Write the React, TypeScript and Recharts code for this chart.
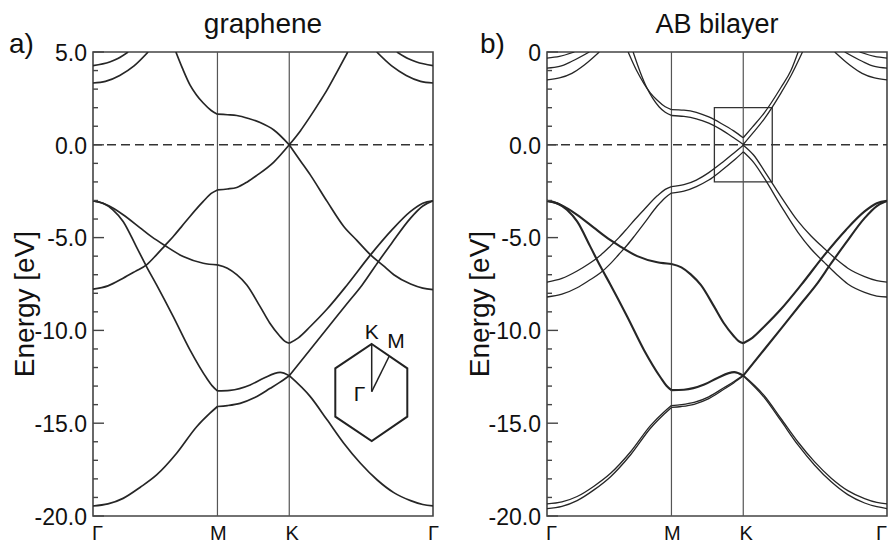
import React from 'react';
import { LineChart, Line, XAxis, YAxis, ReferenceLine, ReferenceArea } from 'recharts';

type Pt = [number, number];

// high-symmetry path (ΓM normalised to 1)
const K_G1 = 0;
const K_M = 1.0;
const K_K = 1.577;
const K_G2 = 2.732;
const kTicks = [K_G1, K_M, K_K, K_G2];
const kLabels = ['Γ', 'M', 'K', 'Γ'];

const eTicks = [5, 4, 3, 2, 1, 0, -1, -2, -3, -4, -5, -6, -7, -8, -9, -10, -11, -12, -13, -14, -15, -16, -17, -18, -19, -20];
const eMajor = [5, 0, -5, -10, -15, -20];
const eLabelsA = ['5.0', '0.0', '-5.0', '-10.0', '-15.0', '-20.0'];
const eLabelsB = ['0', '0.0', '-5.0', '-10.0', '-15.0', '-20.0'];

const titles = ['graphene', 'AB bilayer'];
const panelTags = ['a)', 'b)'];
const yTitle = 'Energy [eV]';

// ---------- graphene (monolayer) ----------
const gPiStar: Pt[] = [
  [0.666, 5.0], [0.72, 4.1], [0.779, 3.23], [0.83, 2.7], [0.886, 2.25], [0.95, 1.85], [1.0, 1.65],
  [1.08, 1.62], [1.155, 1.58], [1.25, 1.42], [1.343, 1.2], [1.453, 0.8], [1.577, 0],
  [1.666, 0.75], [1.746, 1.53], [1.82, 2.3], [1.881, 2.96], [1.96, 3.92], [2.047, 5.0],
];
const gPi: Pt[] = [
  [0, -7.78], [0.12, -7.6], [0.242, -7.19], [0.34, -6.82], [0.43, -6.47], [0.51, -5.93], [0.578, -5.43],
  [0.645, -4.94], [0.71, -4.42], [0.779, -3.86], [0.886, -3.05], [0.95, -2.62], [1.0, -2.43],
  [1.08, -2.38], [1.155, -2.3], [1.24, -2.0], [1.316, -1.65], [1.453, -0.93], [1.577, 0],
  [1.66, -0.8], [1.746, -1.62], [1.881, -3.05], [2.015, -4.4], [2.12, -5.15], [2.23, -5.93],
  [2.33, -6.5], [2.417, -7.0], [2.552, -7.5], [2.65, -7.72], [2.732, -7.8],
];
const gSigma3: Pt[] = [
  [0, -3.02], [0.1, -3.2], [0.17, -3.45], [0.242, -3.77], [0.376, -4.46], [0.47, -4.95], [0.578, -5.43],
  [0.725, -6.02], [0.886, -6.38], [1.0, -6.47],
  [1.08, -6.65], [1.155, -7.0], [1.236, -7.55], [1.343, -8.72], [1.42, -9.6], [1.5, -10.3], [1.54, -10.58], [1.577, -10.69],
  [1.65, -10.4], [1.746, -9.79], [1.881, -8.85], [2.042, -7.55], [2.23, -5.93], [2.4, -4.6],
  [2.552, -3.59], [2.65, -3.15], [2.732, -3.02],
];
const gSigma2: Pt[] = [
  [0, -3.02], [0.08, -3.15], [0.16, -3.5], [0.242, -4.13], [0.349, -5.5], [0.43, -6.56], [0.511, -7.55],
  [0.645, -9.26], [0.779, -11.05], [0.914, -12.58], [0.96, -13.0], [1.0, -13.26],
  [1.1, -13.23], [1.263, -12.94], [1.37, -12.58], [1.504, -12.26], [1.577, -12.44],
  [1.746, -11.03], [1.881, -9.9], [2.042, -8.55], [2.163, -7.55], [2.284, -6.38], [2.4, -5.3],
  [2.552, -3.95], [2.65, -3.3], [2.732, -3.02],
];
const gSigma1: Pt[] = [
  [0, -19.46], [0.12, -19.35], [0.242, -19.05], [0.38, -18.45], [0.511, -17.79], [0.672, -16.62],
  [0.833, -15.19], [0.94, -14.46], [1.0, -14.1],
  [1.08, -14.05], [1.182, -13.93], [1.3, -13.62], [1.424, -13.12], [1.5, -12.8], [1.577, -12.44],
  [1.746, -13.57], [1.881, -14.82], [2.015, -16.08], [2.149, -17.16], [2.284, -18.06], [2.417, -18.74],
  [2.552, -19.17], [2.65, -19.38], [2.732, -19.46],
];
const gSigmaStarA: Pt[] = [
  [0, 4.27], [0.134, 4.46], [0.2, 4.65], [0.282, 5.0],
  [2.442, 5.0], [2.53, 4.65], [2.6, 4.46], [2.732, 4.27],
];
const gSigmaStarB: Pt[] = [
  [0, 3.33], [0.1, 3.42], [0.215, 3.74], [0.33, 4.25], [0.443, 5.0],
  [2.28, 5.0], [2.4, 4.25], [2.517, 3.74], [2.632, 3.42], [2.732, 3.33],
];

// ---------- AB bilayer ----------
const bPiStar1: Pt[] = [
  [0.652, 5.0], [0.72, 4.0], [0.779, 3.3], [0.83, 2.8], [0.886, 2.4], [0.95, 2.05], [1.0, 1.9],
  [1.1, 1.87], [1.2, 1.75], [1.3, 1.5], [1.4, 1.15], [1.5, 0.75], [1.577, 0.38],
  [1.65, 0.95], [1.746, 1.72], [1.881, 3.1], [1.96, 4.0], [2.018, 5.0],
];
const bPiStar2: Pt[] = [
  [0.692, 5.0], [0.75, 3.9], [0.8, 3.1], [0.85, 2.5], [0.9, 2.05], [0.95, 1.75], [1.0, 1.58],
  [1.1, 1.53], [1.2, 1.4], [1.3, 1.17], [1.4, 0.82], [1.5, 0.38], [1.577, 0.02],
  [1.65, 0.6], [1.746, 1.4], [1.881, 2.8], [1.96, 3.72], [2.053, 5.0],
];
const bPi1: Pt[] = [
  [0, -7.4], [0.12, -7.2], [0.242, -6.8], [0.34, -6.4], [0.43, -5.95], [0.51, -5.45], [0.578, -5.0],
  [0.645, -4.5], [0.71, -4.0], [0.779, -3.5], [0.886, -2.75], [0.95, -2.4], [1.0, -2.25],
  [1.1, -2.15], [1.2, -1.9], [1.3, -1.5], [1.4, -1.0], [1.5, -0.45], [1.577, -0.02],
  [1.66, -0.55], [1.746, -1.4], [1.881, -2.8], [2.015, -4.1], [2.12, -4.9], [2.23, -5.6],
  [2.33, -6.2], [2.417, -6.65], [2.552, -7.1], [2.65, -7.32], [2.732, -7.4],
];
const bPi2: Pt[] = [
  [0, -8.2], [0.12, -8.05], [0.242, -7.7], [0.34, -7.3], [0.43, -6.9], [0.51, -6.4], [0.578, -5.9],
  [0.645, -5.4], [0.71, -4.85], [0.779, -4.25], [0.886, -3.3], [0.95, -2.85], [1.0, -2.6],
  [1.1, -2.5], [1.2, -2.25], [1.3, -1.9], [1.4, -1.4], [1.5, -0.85], [1.577, -0.38],
  [1.66, -0.95], [1.746, -1.8], [1.881, -3.3], [2.015, -4.7], [2.12, -5.6], [2.23, -6.35],
  [2.33, -7.0], [2.417, -7.5], [2.552, -7.95], [2.65, -8.15], [2.732, -8.2],
];
const bSigma1a: Pt[] = [
  [0, -19.35], [0.12, -19.24], [0.242, -18.95], [0.38, -18.38], [0.511, -17.7], [0.672, -16.54],
  [0.833, -15.12], [0.94, -14.4], [1.0, -14.05],
  [1.08, -14.0], [1.182, -13.88], [1.3, -13.58], [1.424, -13.08], [1.5, -12.77], [1.577, -12.42],
  [1.746, -13.52], [1.881, -14.76], [2.015, -16.0], [2.149, -17.07], [2.284, -17.96], [2.417, -18.63],
  [2.552, -19.06], [2.65, -19.27], [2.732, -19.35],
];
const bSigma1b: Pt[] = [
  [0, -19.6], [0.12, -19.48], [0.242, -19.17], [0.38, -18.58], [0.511, -17.88], [0.672, -16.7],
  [0.833, -15.26], [0.94, -14.52], [1.0, -14.15],
  [1.08, -14.1], [1.182, -13.98], [1.3, -13.68], [1.424, -13.16], [1.5, -12.83], [1.577, -12.46],
  [1.746, -13.62], [1.881, -14.88], [2.015, -16.16], [2.149, -17.25], [2.284, -18.16], [2.417, -18.85],
  [2.552, -19.3], [2.65, -19.5], [2.732, -19.6],
];
const bSigma2: Pt[] = [
  [0, -3.02], [0.08, -3.15], [0.16, -3.5], [0.242, -4.13], [0.349, -5.5], [0.43, -6.56], [0.511, -7.55],
  [0.645, -9.26], [0.779, -11.05], [0.914, -12.55], [0.96, -12.98], [1.0, -13.22],
  [1.1, -13.2], [1.263, -12.92], [1.37, -12.56], [1.504, -12.25], [1.577, -12.44],
  [1.746, -11.03], [1.881, -9.9], [2.042, -8.55], [2.163, -7.55], [2.284, -6.38], [2.4, -5.3],
  [2.552, -3.95], [2.65, -3.3], [2.732, -3.02],
];
const bSigma3: Pt[] = [
  [0, -3.02], [0.1, -3.2], [0.17, -3.45], [0.242, -3.77], [0.376, -4.46], [0.47, -4.95], [0.578, -5.43],
  [0.725, -6.0], [0.886, -6.33], [1.0, -6.42],
  [1.08, -6.6], [1.155, -6.98], [1.236, -7.55], [1.343, -8.72], [1.42, -9.6], [1.5, -10.3], [1.54, -10.58], [1.577, -10.69],
  [1.65, -10.4], [1.746, -9.79], [1.881, -8.85], [2.042, -7.55], [2.23, -5.93], [2.4, -4.6],
  [2.552, -3.59], [2.65, -3.15], [2.732, -3.02],
];
const bSigmaStar1: Pt[] = [
  [0, 4.67], [0.1, 4.76], [0.22, 5.0],
  [2.512, 5.0], [2.632, 4.76], [2.732, 4.67],
];
const bSigmaStar2: Pt[] = [
  [0, 4.13], [0.1, 4.22], [0.2, 4.5], [0.34, 5.0],
  [2.392, 5.0], [2.532, 4.5], [2.632, 4.22], [2.732, 4.13],
];
const bSigmaStar3: Pt[] = [
  [0, 3.5], [0.1, 3.6], [0.2, 3.85], [0.3, 4.3], [0.42, 5.0],
  [2.312, 5.0], [2.432, 4.3], [2.532, 3.85], [2.632, 3.6], [2.732, 3.5],
];

// inset box around K in the bilayer panel
const boxK = [1.345, 1.81];
const boxE = [-2, 2];

const FONT = '"Liberation Sans", Arial, Helvetica, sans-serif';
const INK = '#262626';

type Band = { pts: Pt[]; w: number };

const bandsA: Band[] = [gPiStar, gPi, gSigma3, gSigma2, gSigma1, gSigmaStarA, gSigmaStarB].map((pts) => ({ pts, w: 1.7 }));
const bandsB: Band[] = [
  ...[bPiStar1, bPiStar2, bPi1, bPi2, bSigma1a, bSigma1b, bSigmaStar1, bSigmaStar2, bSigmaStar3].map((pts) => ({ pts, w: 1.3 })),
  ...[bSigma2, bSigma3].map((pts) => ({ pts, w: 2.1 })),
];

function splitSegments(pts: Pt[]) {
  const bounds = [[K_G1, K_M], [K_M, K_K], [K_K, K_G2]];
  return bounds
    .map(([a, b]) => pts.filter(([k]) => k >= a - 1e-9 && k <= b + 1e-9).map(([k, e]) => ({ k, e })))
    .filter((s) => s.length >= 2);
}

function makeLeftTick(labels: string[]) {
  return (props: any) => {
    const { x, y, payload } = props;
    const v = payload.value as number;
    const mi = eMajor.indexOf(v);
    const len = mi >= 0 ? 11 : 5;
    return (
      <g>
        <line x1={x} x2={x + len} y1={y} y2={y} stroke="#444" strokeWidth={1.4} />
        {mi >= 0 && (
          <text x={x - 6} y={y} dy="0.38em" textAnchor="end" fontSize={23} fontFamily={FONT} fill="#111">
            {labels[mi]}
          </text>
        )}
      </g>
    );
  };
}

const rightTick = (props: any) => {
  const { x, y, payload } = props;
  const len = eMajor.indexOf(payload.value) >= 0 ? 11 : 5;
  return <line x1={x} x2={x - len} y1={y} y2={y} stroke="#444" strokeWidth={1.4} />;
};

function makeXTick(lastAtEdge: boolean) {
  return (props: any) => {
    const { x, y, payload } = props;
    const i = kTicks.indexOf(payload.value);
    let anchor: 'start' | 'middle' | 'end' = 'middle';
    let dx = 0;
    if (i === 0) { anchor = 'start'; dx = -1; }
    else if (i === 1) { dx = 1; }
    else if (i === 2) { dx = 3; }
    else if (lastAtEdge) { anchor = 'end'; dx = 0; }
    else { anchor = 'start'; dx = -5; }
    return (
      <text x={x + dx} y={y + 24} textAnchor={anchor} fontSize={20} fontFamily={FONT} fill="#111">
        {kLabels[i]}
      </text>
    );
  };
}

function Panel({ bands, labels, left, marginLeft, marginRight, showBox, lastAtEdge }: { bands: Band[]; labels: string[]; left: number; marginLeft: number; marginRight: number; showBox: boolean; lastAtEdge: boolean }) {
  return (
    <div style={{ position: 'absolute', left, top: 0 }}>
      <LineChart width={444} height={545} margin={{ top: 52, right: marginRight, bottom: 0, left: marginLeft }}>
        <XAxis
          type="number"
          dataKey="k"
          domain={[K_G1, K_G2]}
          allowDataOverflow
          ticks={kTicks}
          interval={0}
          tick={makeXTick(lastAtEdge)}
          tickLine={false}
          axisLine={false}
          tickSize={0}
          tickMargin={0}
          height={29}
        />
        <YAxis
          yAxisId="l"
          type="number"
          domain={[-20, 5]}
          allowDataOverflow
          ticks={eTicks}
          interval={0}
          tick={makeLeftTick(labels)}
          tickLine={false}
          axisLine={false}
          tickSize={0}
          tickMargin={0}
          width={60}
        />
        <YAxis
          yAxisId="r"
          orientation="right"
          type="number"
          domain={[-20, 5]}
          allowDataOverflow
          ticks={eTicks}
          interval={0}
          tick={rightTick}
          tickLine={false}
          axisLine={false}
          tickSize={0}
          tickMargin={0}
          width={0}
        />
        <ReferenceLine yAxisId="l" x={K_M} stroke="#555" strokeWidth={1.2} />
        <ReferenceLine yAxisId="l" x={K_K} stroke="#555" strokeWidth={1.2} />
        <ReferenceLine yAxisId="l" y={0} stroke="#333" strokeWidth={1.5} strokeDasharray="9 5" />
        {showBox && (
          <ReferenceArea yAxisId="l" x1={boxK[0]} x2={boxK[1]} y1={boxE[0]} y2={boxE[1]} fill="none" fillOpacity={0} stroke="#333" strokeWidth={1.3} />
        )}
        {bands.flatMap((b, i) =>
          splitSegments(b.pts).map((seg, j) => (
            <Line
              key={`b${i}-${j}`}
              yAxisId="l"
              data={seg}
              dataKey="e"
              type="monotone"
              stroke={INK}
              strokeWidth={b.w}
              dot={false}
              activeDot={false}
              isAnimationActive={false}
              legendType="none"
            />
          ))
        )}
        <ReferenceArea yAxisId="l" x1={K_G1} x2={K_G2} y1={-20} y2={5} fill="none" fillOpacity={0} stroke="#444" strokeWidth={1.6} />
      </LineChart>
    </div>
  );
}

export default function App() {
  return (
    <div style={{ position: 'absolute', left: 0, top: 0, width: 888, height: 545, background: '#fff', overflow: 'hidden' }}>
      <Panel bands={bandsA} labels={eLabelsA} left={0} marginLeft={33} marginRight={11} showBox={false} lastAtEdge={false} />
      <Panel bands={bandsB} labels={eLabelsB} left={444} marginLeft={43} marginRight={1} showBox={true} lastAtEdge={true} />
      <svg width={888} height={545} style={{ position: 'absolute', left: 0, top: 0, pointerEvents: 'none' }}>
        <g fontFamily={FONT} fill="#111">
          <text x={263} y={33} textAnchor="middle" fontSize={28}>{titles[0]}</text>
          <text x={717} y={33} textAnchor="middle" fontSize={27}>{titles[1]}</text>
          <text x={9} y={53} fontSize={28}>{panelTags[0]}</text>
          <text x={480} y={53} fontSize={28}>{panelTags[1]}</text>
          <text x={34} y={304} textAnchor="middle" fontSize={28} transform="rotate(-90 34 304)">{yTitle}</text>
          <text x={489} y={304} textAnchor="middle" fontSize={28} transform="rotate(-90 489 304)">{yTitle}</text>
        </g>
        {/* Brillouin-zone inset */}
        <g stroke="#222" strokeWidth={2} fill="none">
          <polygon points="371.7,344 407.3,368.3 407.3,416.7 371.7,441 335.3,416.7 335.3,368.3" />
          <line x1={371.7} y1={391.7} x2={371.7} y2={344} strokeWidth={1.5} />
          <line x1={371.7} y1={391.7} x2={389.3} y2={356} strokeWidth={1.5} />
        </g>
        <g fontFamily={FONT} fill="#111" fontSize={21}>
          <text x={371.7} y={339} textAnchor="middle">K</text>
          <text x={396} y={348} textAnchor="middle">M</text>
          <text x={359.5} y={401} textAnchor="middle">Γ</text>
        </g>
      </svg>
    </div>
  );
}
